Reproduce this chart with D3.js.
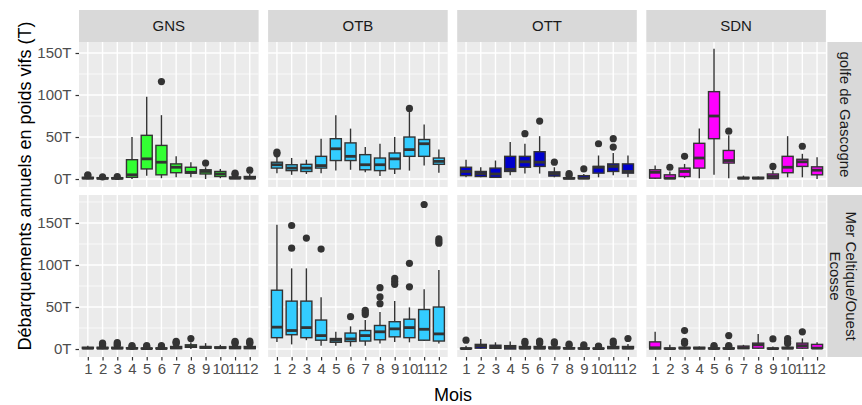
<!DOCTYPE html>
<html>
<head>
<meta charset="utf-8">
<script src="https://cdn.jsdelivr.net/npm/d3@7"></script>
<style>
  body { margin: 0; background: #fff; }
  text { font-family: "Liberation Sans", Arial, sans-serif; }
</style>
</head>
<body>
<div id="chart"></div>
<script>
// categories
var months = [1, 2, 3, 4, 5, 6, 7, 8, 9, 10, 11, 12];
var engins = ["GNS", "OTB", "OTT", "SDN"];
var zones = [["golfe de Gascogne"], ["Mer Celtique/Ouest", "Ecosse"]];
var yTicks = [0, 50, 100, 150];

// box stats per month: [min, q1, median, q3, max, outliers] (tonnes)
var gnsGascogne = [
  [0, 0.5, 1, 2, 3, [4, 5]], [0, 0.3, 0.8, 1.5, 2, [2.5]], [0, 0.3, 0.8, 1.5, 2, [3]],
  [0, 2, 5, 23, 50, []], [4, 12, 24, 52, 98, []], [1, 5, 20, 40, 76, [116]],
  [2, 7.5, 14, 18, 27, []], [2, 7, 8, 14, 20, []], [0, 6, 9, 11, 14, [19]],
  [1, 3, 6, 9, 12, []], [0, 0.5, 1, 2.5, 4, [5.5, 7]], [0, 0.5, 1, 3, 6, [10.5]]
];
var otbGascogne = [
  [7, 13, 17, 20, 27, [30, 32]], [5, 10, 13, 17, 25, []], [6, 9, 13, 17.5, 23, []],
  [7, 13, 16, 27, 48, []], [10, 22, 36, 48, 76, []], [11, 22, 27, 43, 60, []],
  [8, 11, 17, 29, 38, []], [3.5, 10, 17, 25, 42, []], [6, 12, 24, 31, 50, []],
  [10, 27, 35, 50, 80, [84]], [16, 27, 42, 47, 65, []], [7.5, 17.5, 21, 25, 35, []]
];
var ottGascogne = [
  [2, 4, 9, 14, 23, []], [2, 3, 6.5, 9, 14, []], [1.5, 2, 6, 13, 22, []],
  [4.5, 9, 11.5, 27, 44, []], [6.5, 14, 20.5, 27, 42, [54]], [6.5, 15, 20, 32.5, 51, [69]],
  [2, 3.5, 6.5, 8.5, 14, [20]], [0, 0.3, 0.8, 1.5, 3, [4.5, 6.5]], [0, 0.5, 1, 4, 6, [12]],
  [2, 7, 14, 15, 28, [42]], [4.5, 9, 15, 18, 31, [38, 48]], [2, 7, 9, 18, 28, []]
];
var sdnGascogne = [
  [0, 1, 8, 11, 16, []], [0, 0.5, 1, 5, 9, [14]], [1, 3, 9, 13, 18, [27]],
  [1, 13, 25, 42.5, 60, []], [5, 48, 75, 104, 155, []], [1, 19, 22, 34, 52, [57]],
  [0, 0.5, 1, 2, 4, []], [0, 0.5, 1, 2, 3, []], [0, 0.5, 3, 6, 10, [15]],
  [2, 7.5, 14, 27, 51, []], [2, 15, 20.5, 23.5, 30, [39]], [0, 5, 10.5, 14.5, 26, []]
];
var gnsCeltique = [
  [0, 0.5, 1, 2, 4, []], [0, 0.5, 1, 2, 3, [4, 5.5, 7]], [0, 0.5, 1, 2, 3, [4.5, 6, 7.5]],
  [0, 0.3, 0.8, 1.5, 2, [3, 4]], [0, 0.3, 0.5, 1, 2, [3, 4]], [0, 0.3, 0.6, 1.2, 2, [3, 4]],
  [0, 0.5, 1.5, 3, 5, [6.5, 8, 9]], [0, 2, 3, 5, 8, [12.5]], [0, 1, 2, 3, 7, []],
  [0, 1, 1.5, 2.5, 5, []], [0, 0.5, 1.5, 3, 5, [6.5, 8, 9]], [0, 0.5, 1.5, 3, 5, [6.5, 8, 9.5]]
];
var otbCeltique = [
  [8.5, 13.5, 26, 70, 148, []], [5.5, 17, 22, 57, 96, [120, 147]], [10.5, 13.5, 25.5, 57, 96, [132]],
  [4, 10.5, 16, 34.5, 61.5, [119]], [4, 8, 10.5, 12.5, 20.5, []], [3, 9, 12, 19, 27, [38.5]],
  [4, 9.5, 16, 22, 34.5, [41, 43.5, 46]], [6.5, 11, 20.5, 28, 44, [54, 62, 73]],
  [8.5, 14.5, 24, 32.5, 57, [77, 80.5, 84]], [8, 13.5, 25.5, 35.5, 49.5, [74, 102]],
  [9.5, 10.5, 23.5, 47, 71, [172]], [6.5, 9.5, 18, 50, 94, [126, 128.5, 131]]
];
var ottCeltique = [
  [0, 0.3, 0.5, 1, 4, [10.5]], [0, 1, 4, 5.5, 12, []], [0, 0.8, 2, 4.5, 8, []],
  [0, 0, 2, 4, 9, []], [0, 0.5, 1, 3, 5, [7, 9]], [0, 0.5, 1, 3, 5, [7, 8.5, 9.5]],
  [0, 0.5, 1, 2.5, 5, [6.5, 8.5]], [0, 0.3, 0.8, 1.5, 3, [4.5, 6]], [0, 0.3, 0.6, 1.2, 2.5, [3.5, 5]],
  [0, 0.3, 0.5, 1, 2, [3, 3.5]], [0, 0.5, 1.5, 3, 5, [7, 9.5]], [0, 0.5, 1, 3, 6, [12.5]]
];
var sdnCeltique = [
  [0, 0, 1.5, 8.5, 20.5, []], [0, 0.3, 0.5, 1, 5, []], [0, 0.5, 1, 2, 5, [7, 9, 22]],
  [0, 0.3, 1, 2, 3, []], [0, 0.3, 0.6, 1.2, 2, [3, 4]], [0, 0.3, 0.6, 1.2, 2, [3, 4, 16]],
  [0, 0.5, 1.5, 3.5, 5, []], [0.5, 1, 5, 7, 18, []], [0, 0.3, 0.5, 1, 3, [12]],
  [0, 0.5, 1, 2, 4, [6.5, 9, 12.5]], [0, 1, 4, 7, 12.5, [20.5]], [0, 0.8, 1, 5.5, 8, []]
];

var panelData = [
  [gnsGascogne, otbGascogne, ottGascogne, sdnGascogne],
  [gnsCeltique, otbCeltique, ottCeltique, sdnCeltique]
];

// styles / layout
var enginColors = ["#33ff33", "#33ccff", "#0000cc", "#ff00ff"];
var colLeft = 79, colW = 179.6, colGap = 9.5;
var rows = [
  {top: 42, bottom: 187, domain: [-9.5, 163.1]},
  {top: 195, bottom: 357, domain: [-9.5, 183.3]}
];

var svg = d3.select("#chart")
  .append("svg")
    .attr("width", 862)
    .attr("height", 405);

rows.forEach(function(r, ri) {
  var y = d3.scaleLinear().domain(r.domain).range([r.bottom, r.top]);
  var minor = [25, 75, 125, 175].filter(function(v) { return v > r.domain[0] && v < r.domain[1]; });

  engins.forEach(function(e, ci) {
    var x0 = colLeft + ci * (colW + colGap);
    var x = d3.scalePoint().domain(months).range([x0, x0 + colW]).padding(0.6);
    var bw = x.step() * 0.75;
    var g = svg.append("g");

    // panel background + grid
    g.append("rect")
      .attr("x", x0).attr("y", r.top)
      .attr("width", colW).attr("height", r.bottom - r.top)
      .attr("fill", "#ebebeb");
    g.selectAll(".minor").data(minor).enter().append("line")
      .attr("x1", x0).attr("x2", x0 + colW)
      .attr("y1", function(d) { return y(d); }).attr("y2", function(d) { return y(d); })
      .attr("stroke", "#fff").attr("stroke-width", 0.7);
    g.selectAll(".major").data(yTicks).enter().append("line")
      .attr("x1", x0).attr("x2", x0 + colW)
      .attr("y1", function(d) { return y(d); }).attr("y2", function(d) { return y(d); })
      .attr("stroke", "#fff").attr("stroke-width", 1.4);
    g.selectAll(".vmajor").data(months).enter().append("line")
      .attr("x1", function(d) { return x(d); }).attr("x2", function(d) { return x(d); })
      .attr("y1", r.top).attr("y2", r.bottom)
      .attr("stroke", "#fff").attr("stroke-width", 1.4);

    // boxplots
    var stats = panelData[ri][ci];
    var box = g.selectAll(".box").data(stats).enter().append("g");
    box.append("line")
      .attr("x1", function(d, i) { return x(months[i]); })
      .attr("x2", function(d, i) { return x(months[i]); })
      .attr("y1", function(d) { return y(d[0]); })
      .attr("y2", function(d) { return y(d[4]); })
      .attr("stroke", "#333").attr("stroke-width", 1.4);
    box.append("rect")
      .attr("x", function(d, i) { return x(months[i]) - bw / 2; })
      .attr("y", function(d) { return y(d[3]); })
      .attr("width", bw)
      .attr("height", function(d) { return Math.max(0, y(d[1]) - y(d[3])); })
      .attr("fill", enginColors[ci])
      .attr("stroke", "#333").attr("stroke-width", 1.4);
    box.append("line")
      .attr("x1", function(d, i) { return x(months[i]) - bw / 2; })
      .attr("x2", function(d, i) { return x(months[i]) + bw / 2; })
      .attr("y1", function(d) { return y(d[2]); })
      .attr("y2", function(d) { return y(d[2]); })
      .attr("stroke", "#333").attr("stroke-width", 2.8);
    box.each(function(d, i) {
      d3.select(this).selectAll("circle").data(d[5]).enter().append("circle")
        .attr("cx", x(months[i]))
        .attr("cy", function(v) { return y(v); })
        .attr("r", 3.6)
        .attr("fill", "#333");
    });

    // x axis on bottom row
    if (ri === rows.length - 1) {
      var xa = svg.append("g")
        .attr("transform", "translate(0," + r.bottom + ")")
        .call(d3.axisBottom(x).tickSize(3.5).tickPadding(3));
      xa.select(".domain").remove();
      xa.selectAll("line").attr("stroke", "#333").attr("stroke-width", 1.2);
      xa.selectAll("text").attr("fill", "#4d4d4d").style("font-size", "15px");
    }
  });

  // y axis
  var ya = svg.append("g")
    .attr("transform", "translate(" + colLeft + ",0)")
    .call(d3.axisLeft(y).tickValues(yTicks).tickFormat(function(d) { return d + "T"; })
      .tickSize(3.5).tickPadding(4));
  ya.select(".domain").remove();
  ya.selectAll("line").attr("stroke", "#333").attr("stroke-width", 1.2);
  ya.selectAll("text").attr("fill", "#4d4d4d").style("font-size", "15px");

  // right strip
  var sx = colLeft + 4 * colW + 3 * colGap + 1.5;
  svg.append("rect")
    .attr("x", sx).attr("y", r.top)
    .attr("width", 50).attr("height", r.bottom - r.top)
    .attr("fill", "#d9d9d9");
  var lines = zones[ri];
  var cy = (r.top + r.bottom) / 2;
  lines.forEach(function(t, li) {
    var cx = lines.length === 1 ? 845 : (li === 0 ? 851 : 835);
    svg.append("text")
      .attr("transform", "translate(" + cx + "," + cy + ") rotate(90)")
      .attr("text-anchor", "middle")
      .attr("dy", "0.35em")
      .attr("fill", "#1a1a1a")
      .style("font-size", "15px")
      .text(t);
  });
});

// top strips
engins.forEach(function(e, ci) {
  var x0 = colLeft + ci * (colW + colGap);
  svg.append("rect")
    .attr("x", x0).attr("y", 10)
    .attr("width", colW).attr("height", 32)
    .attr("fill", "#d9d9d9");
  svg.append("text")
    .attr("x", x0 + colW / 2).attr("y", 26)
    .attr("dy", "0.35em")
    .attr("text-anchor", "middle")
    .attr("fill", "#1a1a1a")
    .style("font-size", "15px")
    .text(e);
});

// axis titles
svg.append("text")
  .attr("x", 453).attr("y", 401)
  .attr("text-anchor", "middle")
  .style("font-size", "18px")
  .text("Mois");
svg.append("text")
  .attr("transform", "translate(31,186) rotate(-90)")
  .attr("text-anchor", "middle")
  .style("font-size", "18px")
  .text("Débarquements annuels en poids vifs (T)");
</script>
</body>
</html>
